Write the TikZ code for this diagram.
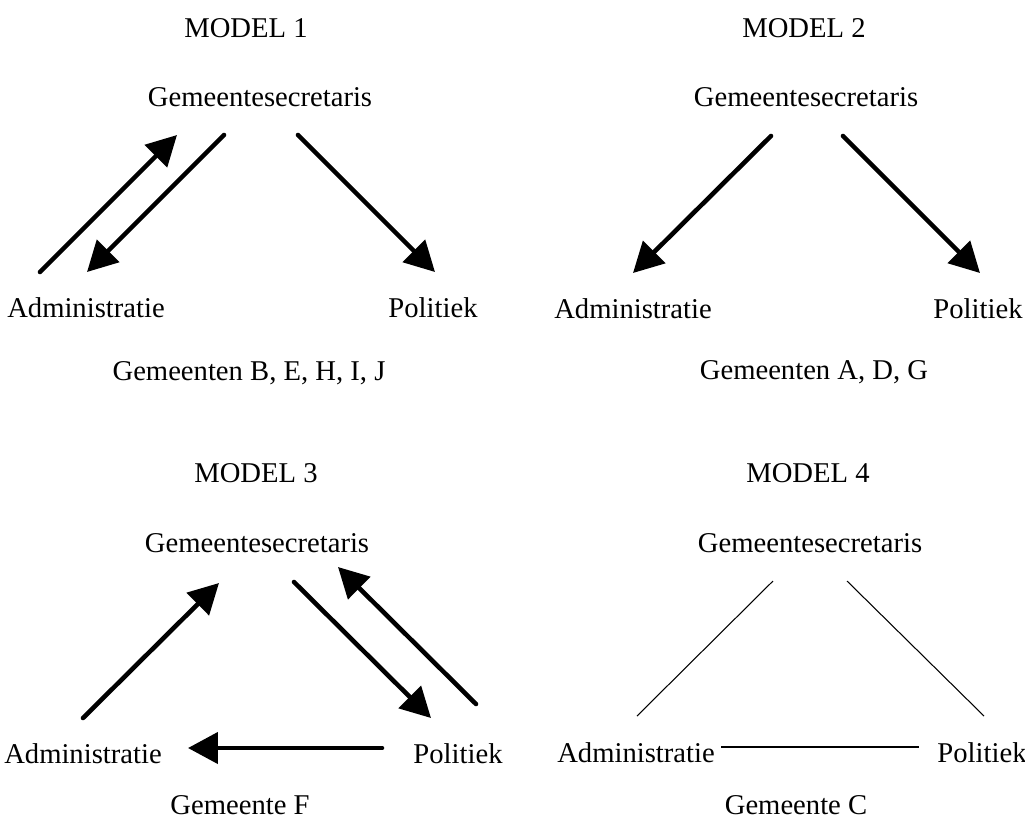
\documentclass[tikz,border=0pt]{standalone}
\usepackage{fontspec}
\setmainfont{Liberation Serif}
\usetikzlibrary{arrows.meta}
\begin{document}
\begin{tikzpicture}[x=0.02cm,y=-0.02cm,
  lbl/.style={anchor=base,inner sep=0pt,font=\fontsize{16.3}{19}\selectfont},
  pijl/.style={line width=2.6pt,line cap=round,-{Triangle[length=0.6cm,width=0.62cm]}},
  dun/.style={line width=0.6pt}]
\useasboundingbox (0,0) rectangle (1025,823);
% model 1
\node[lbl] (t1) at (246,37) {MODEL 1};
\node[lbl] (gs1) at (260,106) {Gemeentesecretaris};
\node[lbl] (ad1) at (86,317) {Administratie};
\node[lbl] (po1) at (433,317) {Politiek};
\node[lbl] (ge1) at (249,380) {Gemeenten B, E, H, I, J};
\coordinate (ad1o) at (40,272);  \coordinate (gs1l) at (177,135);
\coordinate (gs1m) at (224,135); \coordinate (ad1i) at (87,272);
\coordinate (gs1r) at (298,135); \coordinate (po1i) at (435,272);
\draw[pijl] (ad1o) -- (gs1l);
\draw[pijl] (gs1m) -- (ad1i);
\draw[pijl] (gs1r) -- (po1i);
% model 2
\node[lbl] (t2) at (804,37) {MODEL 2};
\node[lbl] (gs2) at (806,106) {Gemeentesecretaris};
\node[lbl] (ad2) at (633,318) {Administratie};
\node[lbl] (po2) at (978,318) {Politiek};
\node[lbl] (ge2) at (814,379) {Gemeenten A, D, G};
\coordinate (gs2l) at (771,136); \coordinate (ad2i) at (633,273);
\coordinate (gs2r) at (843,136); \coordinate (po2i) at (980,273);
\draw[pijl] (gs2l) -- (ad2i);
\draw[pijl] (gs2r) -- (po2i);
% model 3
\node[lbl] (t3) at (256,482) {MODEL 3};
\node[lbl] (gs3) at (257,552) {Gemeentesecretaris};
\node[lbl] (ad3) at (83,763) {Administratie};
\node[lbl] (po3) at (458,763) {Politiek};
\node[lbl] (ge3) at (240,814) {Gemeente F};
\coordinate (ad3o) at (83,718);  \coordinate (gs3l) at (219,583);
\coordinate (gs3m) at (294,582); \coordinate (po3i) at (431,718);
\coordinate (po3o) at (476,704); \coordinate (gs3r) at (338,567);
\coordinate (po3l) at (382,748); \coordinate (ad3r) at (188,748);
\draw[pijl] (ad3o) -- (gs3l);
\draw[pijl] (gs3m) -- (po3i);
\draw[pijl] (po3o) -- (gs3r);
\draw[pijl] (po3l) -- (ad3r);
% model 4
\node[lbl] (t4) at (808,482) {MODEL 4};
\node[lbl] (gs4) at (810,552) {Gemeentesecretaris};
\node[lbl] (ad4) at (636,762) {Administratie};
\node[lbl] (po4) at (982,762) {Politiek};
\node[lbl] (ge4) at (796,814) {Gemeente C};
\coordinate (ad4o) at (637,716); \coordinate (gs4l) at (773,581);
\coordinate (gs4r) at (847,581); \coordinate (po4o) at (984,716);
\coordinate (ad4r) at (721,747); \coordinate (po4l) at (919,747);
\draw[dun] (ad4o) -- (gs4l);
\draw[dun] (gs4r) -- (po4o);
\draw[dun] (ad4r) -- (po4l);
\end{tikzpicture}
\end{document}
